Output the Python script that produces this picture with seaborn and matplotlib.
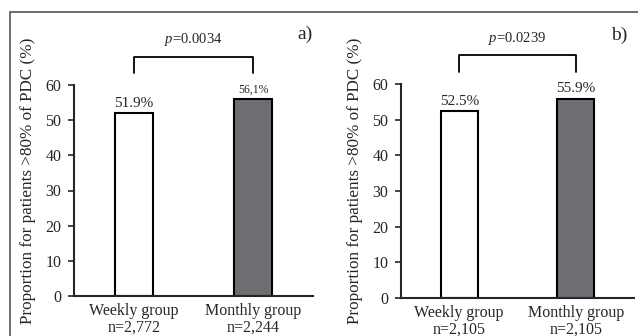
import pandas as pd
import numpy as np
import matplotlib
matplotlib.use("Agg")
import matplotlib.pyplot as plt
import seaborn as sns
from matplotlib.lines import Line2D

# Data
groups = ["Weekly group", "Monthly group"]
values_a = [51.9, 56.1]
values_b = [52.5, 55.9]
labels_a = ["51.9%", "56,1%"]
labels_b = ["52.5%", "55.9%"]
n_a = ["n=2,772", "n=2,244"]
n_b = ["n=2,105", "n=2,105"]
p_a = "0.0034"
p_b = "0.0239"
yticks = [0, 10, 20, 30, 40, 50, 60]

sns.set_style("ticks")
plt.rcParams['font.family'] = ['Liberation Serif', 'DejaVu Serif']
plt.rcParams['mathtext.fontset'] = 'custom'
plt.rcParams['mathtext.it'] = 'Liberation Serif:italic'
plt.rcParams['mathtext.rm'] = 'Liberation Serif'

W, H = 638, 336
fig = plt.figure(figsize=(W / 100, H / 100), dpi=100)
fig.patch.set_facecolor("white")

bar_colors = ["white", "#6e6e72"]


def draw_panel(rect, values, labels, ns, pval, tag, tag_xy, small_second=False):
    x0, y0, x1, y1 = rect  # pixel coords: left, top(60), right, bottom(0)
    ax = fig.add_axes([x0 / W, (H - y1) / H, (x1 - x0) / W, (y1 - y0) / H])
    df = pd.DataFrame({"group": [f"{g}\n{n}" for g, n in zip(groups, ns)],
                       "value": values})
    sns.barplot(data=df, x="group", y="value", hue="group", palette=bar_colors,
                edgecolor="black", linewidth=1.5, width=0.32, legend=False, ax=ax)
    ax.set_ylim(0, 60)
    ax.set_xlim(-0.5, 1.5)
    ax.set_yticks(yticks)
    ax.set_xlabel("")
    ax.set_ylabel("")
    for s in ["top", "right"]:
        ax.spines[s].set_visible(False)
    ax.spines["left"].set_linewidth(1.5)
    ax.spines["bottom"].set_linewidth(1.5)
    ax.tick_params(axis="y", length=4, width=1.2, labelsize=11.5, pad=5)
    ax.tick_params(axis="x", length=0, labelsize=11.5, pad=5)
    for lbl in ax.get_xticklabels():
        lbl.set_linespacing(1.05)
    for i, (v, lab) in enumerate(zip(values, labels)):
        fs = 8.5 if (small_second and i == 1) else 11
        ax.text(i, v + 0.9, lab, ha="center", va="bottom", fontsize=fs, clip_on=False)
    # significance bracket
    ax.plot([0, 0, 1, 1], [63.5, 68.0, 68.0, 63.5], color="black", lw=1.3, clip_on=False)
    ax.text(0.5, 70.5, f"$p$={pval}", ha="center", va="bottom", fontsize=10.5)
    fig.text(tag_xy[0] / W, 1 - tag_xy[1] / H, tag, ha="center", va="center", fontsize=14)
    fig.text((x0 - 46) / W, 1 - 181 / H, "Proportion for patients >80% of PDC (%)",
             rotation=90, ha="center", va="center", fontsize=12.3)
    return ax


draw_panel((74, 85, 313, 296), values_a, labels_a, n_a, p_a, "a)", (305, 34), small_second=True)
draw_panel((401, 84, 634, 298), values_b, labels_b, n_b, p_b, "b)", (619, 35))

# outer frame lines
fig.add_artist(Line2D([10 / W, 1], [1 - 12 / H, 1 - 12 / H], color="#555555", lw=1.2))
fig.add_artist(Line2D([10 / W, 10 / W], [0, 1 - 12 / H], color="#555555", lw=1.2))

fig.savefig("out.png", dpi=100)
